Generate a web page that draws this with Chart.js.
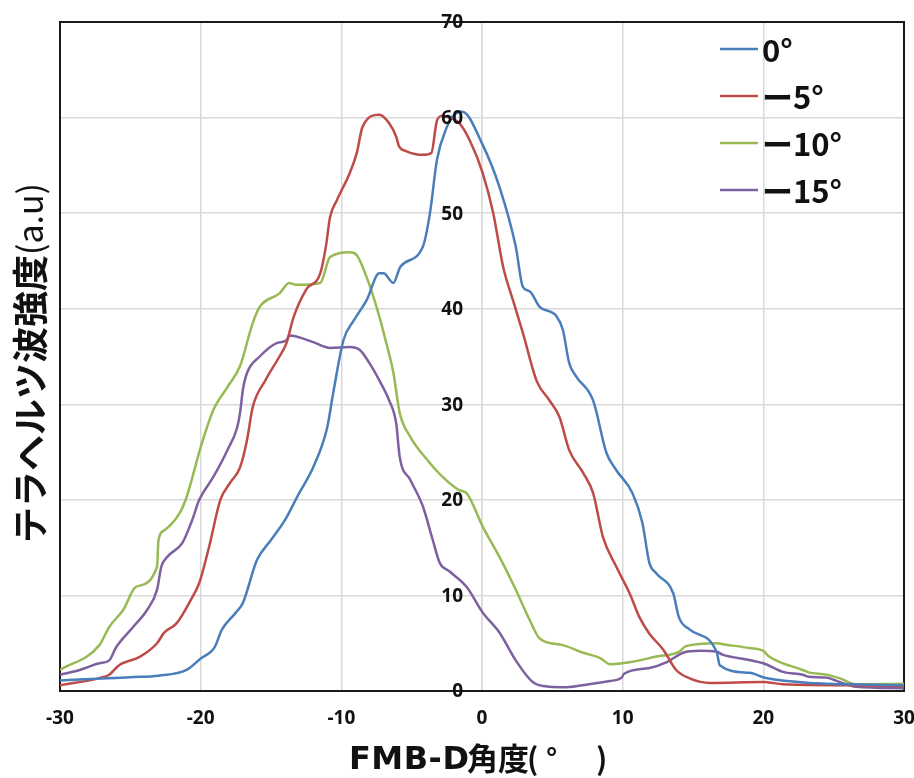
<!DOCTYPE html>
<html>
<head>
<meta charset="utf-8">
<script src="https://cdn.jsdelivr.net/npm/chart.js@4/dist/chart.umd.min.js"></script>
<style>
  html, body { margin: 0; padding: 0; background: #ffffff; }
  #wrap { width: 914px; height: 778px; }
</style>
</head>
<body>
<div id="wrap"><canvas id="c" width="914" height="778"></canvas></div>
<script>
// ---- data ----
const seriesLabels = ['0°', 'ー5°', 'ー10°', 'ー15°'];
const seriesColors = ['#4A7EBB', '#BE4B48', '#98B954', '#7D60A0'];

const deg0X = [-30, -27, -25, -23, -21, -20, -19, -18.5, -17.5, -17, -16, -15, -14, -13, -12, -11, -10.6, -9.85, -9.1, -8.2, -7.3, -7.0, -6.3, -5.8, -4.2, -3.7, -3.2, -2.5, -2.1, -1.4, 0, 1.25, 2.4, 2.9, 3.4, 4.1, 5.3, 5.75, 6.2, 6.7, 7.9, 8.85, 9.55, 10.7, 11.4, 11.9, 12.4, 13.6, 14.0, 14.8, 16.7, 16.9, 19.0, 20.2, 23.8, 26.2, 30];
const deg0Y = [1.1, 1.3, 1.45, 1.6, 2.2, 3.4, 4.6, 6.4, 8.2, 9.2, 13.7, 15.8, 17.9, 20.7, 23.4, 27.6, 31.0, 36.7, 38.8, 40.9, 43.7, 43.7, 42.7, 44.4, 46.5, 50.0, 55.6, 59.0, 60.1, 60.6, 57.3, 52.7, 46.5, 42.3, 41.8, 40.2, 39.2, 37.8, 34.3, 32.9, 30.4, 24.9, 23.1, 20.7, 17.6, 13.4, 12.3, 10.2, 7.7, 6.4, 4.0, 2.7, 1.9, 1.35, 0.8, 0.7, 0.6];

const deg5X = [-30, -27.2, -26.5, -25.8, -24.3, -23.1, -22.6, -21.7, -20.6, -20.1, -19.4, -18.6, -17.9, -17.2, -16.7, -16.3, -15.4, -14.4, -13.9, -13.4, -12.5, -11.5, -11.1, -10.8, -10.3, -9.4, -8.9, -8.5, -7.3, -6.6, -6.1, -5.9, -5.4, -4.2, -3.6, -3.2, -2.8, -2.3, -1.6, -0.9, 0.05, 0.8, 1.5, 2.2, 2.9, 3.9, 4.8, 5.5, 6.2, 7.2, 7.9, 8.6, 9.55, 10.5, 11.2, 11.9, 12.9, 13.8, 14.8, 16.2, 20, 21.4, 26.2, 30];
const deg5Y = [0.6, 1.35, 1.7, 2.7, 3.6, 5.0, 6.1, 7.1, 9.8, 11.3, 15.1, 20.0, 21.8, 23.4, 26.3, 29.7, 32.5, 35.0, 36.4, 39.1, 42.0, 43.7, 46.5, 49.6, 51.4, 54.2, 56.3, 59.0, 60.3, 59.4, 58.0, 57.0, 56.5, 56.1, 56.3, 59.7, 60.2, 60.0, 59.4, 57.7, 54.2, 50.0, 44.4, 40.9, 37.5, 32.4, 30.4, 28.7, 25.2, 22.8, 20.7, 16.1, 13.0, 10.2, 7.7, 6.0, 4.3, 2.2, 1.3, 0.85, 0.95, 0.7, 0.6, 0.5];

const deg10X = [-30, -27.2, -26.5, -25.5, -24.6, -23.1, -23.0, -22.6, -21.5, -21.0, -20.0, -19.1, -18.1, -17.2, -16.3, -15.8, -14.4, -13.7, -13.2, -11.5, -10.8, -9.4, -8.9, -8.2, -7.5, -6.8, -6.3, -5.85, -5.1, -3.9, -2.8, -1.6, -1.1, 0.05, 1.25, 2.4, 3.4, 4.1, 5.75, 7.2, 8.4, 9.1, 10.5, 12.4, 14.0, 14.5, 16.7, 17.1, 19.0, 20.0, 20.4, 21.4, 22.8, 23.2, 24.5, 25.4, 26.6, 30];
const deg10Y = [2.2, 4.8, 6.7, 8.5, 10.9, 13.0, 15.8, 16.8, 18.6, 20.3, 25.5, 29.4, 31.8, 34.0, 38.5, 40.2, 41.6, 42.7, 42.5, 42.7, 45.4, 45.9, 45.6, 43.3, 40.2, 36.4, 33.3, 29.1, 26.6, 24.2, 22.4, 21.0, 20.7, 17.2, 14.0, 10.6, 7.4, 5.5, 4.8, 4.0, 3.45, 2.8, 3.0, 3.6, 4.1, 4.7, 5.0, 4.9, 4.5, 4.2, 3.6, 2.9, 2.2, 1.95, 1.7, 1.35, 0.7, 0.75];

const deg15X = [-30, -28.6, -27.2, -26.5, -26.0, -24.8, -23.8, -23.1, -22.8, -22.4, -21.3, -20.6, -20.1, -19.1, -18.1, -17.4, -17.2, -17.0, -16.7, -15.8, -14.6, -13.9, -13.7, -12.0, -10.8, -9.4, -8.7, -8.0, -7.3, -6.6, -6.1, -5.85, -5.1, -4.2, -3.5, -3.0, -2.3, -1.1, 0.05, 1.25, 2.4, 3.6, 4.8, 6.0, 7.6, 9.1, 9.9, 10.1, 11.9, 13.1, 14.3, 15.5, 16.7, 17.1, 19.0, 20.0, 21.4, 22.8, 23.2, 24.5, 25.4, 26.6, 30];
const deg15Y = [1.7, 2.2, 2.9, 3.2, 4.6, 6.7, 8.5, 10.6, 13.0, 14.0, 15.5, 17.9, 20.0, 22.4, 25.2, 27.6, 29.1, 31.5, 33.3, 35.0, 36.4, 36.7, 37.2, 36.5, 35.9, 36.0, 35.7, 34.3, 32.5, 30.4, 28.0, 24.5, 22.1, 19.3, 15.8, 13.4, 12.5, 10.9, 8.2, 6.1, 3.2, 0.95, 0.45, 0.4, 0.7, 1.05, 1.35, 1.8, 2.4, 3.0, 4.0, 4.2, 4.1, 3.8, 3.25, 2.9, 2.0, 1.7, 1.5, 1.4, 0.95, 0.45, 0.3];

const xTicks = [-30, -20, -10, 0, 10, 20, 30];
const yTicks = [0, 10, 20, 30, 40, 50, 60, 70];
const xTitleLatin = 'FMB-D';
const xTitleCJK = '角度';
const xTitleParts = ['(', '°', ')'];
const yTitleMain = 'テラヘルツ波強度';
const yTitleUnit = '(a.u)';

// ---- build datasets ----
function pts(xs, ys) { return xs.map((x, i) => ({ x: x, y: ys[i] })); }
const allX = [deg0X, deg5X, deg10X, deg15X];
const allY = [deg0Y, deg5Y, deg10Y, deg15Y];
const datasets = seriesLabels.map((lab, i) => ({
  label: lab,
  data: pts(allX[i], allY[i]),
  borderColor: seriesColors[i],
  backgroundColor: seriesColors[i],
  borderWidth: 2.5,
  pointRadius: 0,
  cubicInterpolationMode: 'monotone',
  fill: false
}));

const CJK = '"Noto Sans CJK JP", "Noto Sans", sans-serif';
const TICKFONT = 'bold 19px "Open Sans", "Noto Sans", sans-serif';

const framePlugin = {
  id: 'frame',
  beforeDatasetsDraw(chart) {
    const { ctx, chartArea: a } = chart;
    ctx.save();
    ctx.strokeStyle = '#1a1a1a';
    ctx.lineWidth = 2;
    ctx.strokeRect(a.left, a.top, a.right - a.left, a.bottom - a.top);
    ctx.restore();
  },
  afterDatasetsDraw(chart) {
    // y tick labels next to the y axis that crosses at x = 0
    const { ctx, scales } = chart;
    const xAxisPx = scales.x.getPixelForValue(0);
    ctx.save();
    ctx.font = TICKFONT;
    ctx.fillStyle = '#111';
    ctx.textAlign = 'right';
    ctx.textBaseline = 'middle';
    yTicks.forEach(v => {
      ctx.fillText(String(v), xAxisPx - 19, scales.y.getPixelForValue(v) + 1);
    });
    ctx.restore();
  },
  afterDraw(chart) {
    const { ctx } = chart;
    ctx.save();
    // x title, drawn piecewise
    ctx.fillStyle = '#111';
    ctx.textBaseline = 'alphabetic';
    ctx.textAlign = 'left';
    const base = 769;
    ctx.font = 'bold 32px "DejaVu Sans", sans-serif';
    ctx.letterSpacing = '0.5px';
    ctx.fillText(xTitleLatin, 349, base);
    ctx.letterSpacing = '0px';
    ctx.font = 'bold 31px ' + CJK;
    ctx.fillText(xTitleCJK, 467, base + 1);
    ctx.font = 'bold 30px ' + CJK;
    ctx.fillText(xTitleParts[0], 527, base + 1);
    ctx.font = 'bold 28px ' + CJK;
    ctx.fillText(xTitleParts[1], 546, base);
    ctx.font = 'bold 30px ' + CJK;
    ctx.fillText(xTitleParts[2], 596, base + 1);

    // y title (rotated)
    ctx.translate(30, 363);
    ctx.rotate(-Math.PI / 2);
    ctx.textBaseline = 'middle';
    ctx.font = 'bold 36px ' + CJK;
    const w1 = ctx.measureText(yTitleMain).width;
    ctx.font = '34px ' + CJK;
    const w2 = ctx.measureText(yTitleUnit).width;
    const start = -(w1 + w2) / 2;
    ctx.textAlign = 'left';
    ctx.font = 'bold 36px ' + CJK;
    ctx.fillText(yTitleMain, start, 0);
    ctx.font = '34px ' + CJK;
    ctx.fillText(yTitleUnit, start + w1, 0);
    ctx.restore();

    // legend
    ctx.save();
    const ly = [49, 96, 143, 190];
    ctx.font = 'bold 31px ' + CJK;
    ctx.textAlign = 'left';
    ctx.textBaseline = 'middle';
    seriesLabels.forEach((lab, i) => {
      ctx.strokeStyle = seriesColors[i];
      ctx.lineWidth = 2.5;
      ctx.beginPath();
      ctx.moveTo(720, ly[i]);
      ctx.lineTo(758, ly[i]);
      ctx.stroke();
      ctx.fillStyle = '#111';
      ctx.fillText(lab, 762, ly[i] + 1);
    });
    ctx.restore();
  }
};

new Chart(document.getElementById('c'), {
  type: 'line',
  data: { datasets: datasets },
  options: {
    responsive: false,
    animation: false,
    layout: { padding: { left: 60, right: 10, top: 22, bottom: 0 } },
    plugins: { legend: { display: false }, tooltip: { enabled: false }, title: { display: false } },
    scales: {
      x: {
        type: 'linear',
        min: -30, max: 30,
        position: 'bottom',
        afterFit(scale) { scale.height = 87; scale.paddingLeft = 0; scale.paddingRight = 0; },
        afterBuildTicks(scale) { scale.ticks = xTicks.map(v => ({ value: v })); },
        grid: { color: '#D9D9D9', lineWidth: 1.5, drawTicks: false },
        border: { display: false },
        ticks: {
          color: '#111',
          padding: 16,
          maxRotation: 0,
          font: { family: '"Open Sans", "Noto Sans", sans-serif', weight: 'bold', size: 19 }
        }
      },
      y: {
        type: 'linear',
        min: 0, max: 70,
        position: { x: 0 },
        afterFit(scale) { scale.paddingTop = 0; scale.paddingBottom = 0; scale.width = 0; },
        afterBuildTicks(scale) { scale.ticks = yTicks.map(v => ({ value: v })); },
        grid: { color: '#D9D9D9', lineWidth: 1.5, drawTicks: false },
        border: { display: true, color: '#D9D9D9', width: 1.5 },
        ticks: { display: false }
      }
    }
  },
  plugins: [framePlugin]
});
</script>
</body>
</html>
